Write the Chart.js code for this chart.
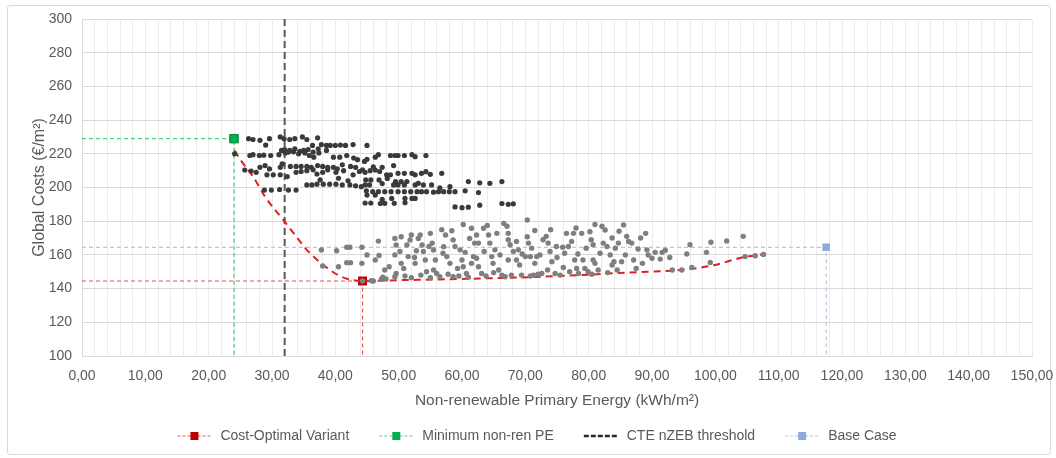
<!DOCTYPE html>
<html>
<head>
<meta charset="utf-8">
<script src="https://cdn.jsdelivr.net/npm/chart.js@4.4.1/dist/chart.umd.min.js"></script>
<style>
  body { margin: 0; background: #fff; }
  #frame { position: absolute; left: 7px; top: 5px; width: 1042px; height: 448px; border: 1px solid #d9d9d9; border-radius: 3px; }
  #chart { position: absolute; left: 0; top: 0; }
</style>
</head>
<body>
<div id="frame"></div>
<canvas id="chart" width="1056" height="458"></canvas>
<script>
// upper cloud (dark points)
var upperCloud = [
  [26.3,229],[27.0,228.5],[28.1,228],[29.6,229],[31.3,230],[31.9,229],[32.8,228.5],[33.6,229],[34.8,230],[35.5,228.5],[37.2,229.5],[29.0,225.2],
  [36.4,225],[37.8,225.5],[38.6,225],[39.2,225],[40.0,225],[40.8,225.2],[41.6,225],[42.8,225.5],[45.0,225],
  [31.5,222],[32.0,222.5],[32.8,222],[33.6,223],[34.4,221.5],[35.0,222],[35.7,222.5],[36.5,221],[37.3,223],[38.6,222],
  [24.1,220],[26.5,219],[27.0,219.5],[28.0,219],[28.7,219.2],[29.8,219],[31.1,219.5],[32.1,220.5],[32.6,221],[33.4,221.2],[34.2,220],[35.2,220.5],[35.9,219],[36.6,218],[37.4,220.5],[39.7,218],[40.7,218],[41.8,219],[42.9,217.5],[43.5,216.5],[44.6,215.5],[45.0,216.7],[46.3,218],[46.8,219.5],[48.7,219],[49.4,219],[49.9,219],[50.9,219],[52.1,219.5],[52.6,218.3],[54.3,219],
  [28.1,212],[28.9,213],[29.6,211],[31.3,212],[31.6,214],[32.9,212.5],[33.8,212.5],[34.6,212.5],[35.5,212.5],[36.2,212],[37.2,213],[38.0,212.5],[38.8,212],[39.7,212],[40.3,211],[41.1,213.5],[42.4,212.5],[43.2,212],[44.3,210.5],[46.0,212.3],[47.4,212],[49.2,213],
  [25.7,210.4],[26.7,209.8],[27.5,209],[29.2,207.5],[30.2,207.5],[31.3,207.5],[32.4,206.5],[33.8,209],[34.6,209.5],[35.5,210],[36.5,210.5],[37.1,208],[38.0,209],[38.8,210.5],[40.1,209],[41.3,210],[42.8,207.5],[43.8,209.5],[44.7,209],[45.5,210],[46.3,210.4],[47.0,209.5],[48.1,207.5],[48.7,207.5],[49.9,208.4],[50.9,208.4],[52.1,208.4],[52.6,207.5],[53.6,208.4],[54.3,209.4],[55.0,207.8],[56.8,208.4],
  [37.6,204.5],[40.5,205.5],[42.0,204],[44.8,204.5],[45.6,204.5],[46.9,204.5],[48.2,205.4],[49.5,203.5],[50.4,203.5],[51.3,203.5],[53.1,202.5],
  [35.5,201.5],[36.3,201.5],[37.1,202],[38.1,202],[39.1,202],[40.1,202],[41.1,201.5],[42.3,201.5],[43.2,201],[44.1,200.5],[44.7,201.5],[45.4,201.5],[47.4,202.3],[49.2,201.5],[49.9,201.5],[50.9,201.5],[52.6,201.5],[53.9,201.5],[55.2,201.5],[56.5,199.8],[58.1,200.5],[61.0,203.5],[62.8,202.8],[64.4,202.5],[66.3,203.5],
  [28.8,198.5],[29.9,198.5],[31.2,198.8],[32.6,198.5],[33.8,198.5],[44.9,198],[45.9,197.5],[46.8,197.5],[47.8,197.5],[48.8,197.5],[49.9,197.5],[50.9,197.5],[51.9,197.5],[52.9,197.5],[53.6,197.5],[54.4,197.5],[55.5,197.2],[56.3,197.5],[57.1,197.5],[58.0,197.5],[58.9,197.5],[60.5,198],[62.6,197],
  [45.0,195.5],[46.3,195.5],[47.4,193],[48.9,193.5],[51.0,193.5],[52.1,193.5],[52.6,193.5],
  [44.7,190.8],[45.6,190.8],[47.1,190.5],[47.8,190.6],[49.3,190.6],[51.0,191],[58.9,188.5],[60.0,188],[61.0,188.3],[62.8,189.5],[66.3,190.5],[67.3,190],[68.1,190.3]
];

// lower cloud (grey points)
var lowerCloud = [
  [37.8,162.9],[38.0,153.4],[40.2,162.5],[40.5,153],[41.8,164.5],[42.3,164.5],[41.8,155.4],[42.4,155.4],[44.2,164.5],[44.2,155],[44.3,144.5],[45.7,144.7],[46.3,157],[46.8,168.2],[46.9,159.6],[47.3,145.7],[48.0,145.7],
  [49.4,169.8],[49.6,165.9],[49.4,160],[49.6,149],[49.4,147.1],[50.4,170.8],[50.2,162],[50.4,155],[51.0,147.5],[51.3,165.9],[51.8,168.9],[52.0,171.8],[51.5,159],[52.6,155],[52.8,162.5],[53.1,169.8],[53.4,171.8],[53.7,165.9],[53.9,162],[54.2,157],[54.4,150],[55.0,172.8],[55.3,167],[55.5,162.9],[55.8,157],[55.5,151],[56.0,149],[56.5,147],[57.1,164.9],[57.4,171.8],[57.6,159],[58.1,155],[58.4,174.3],[58.6,168.9],[58.9,165],[58.6,147],[59.3,152],[59.7,163],[60.0,157],[60.2,153],[60.7,149],[61.2,169.8],[61.5,175.8],[62.0,167],[61.8,159],[61.5,155],
  [62.3,171.8],[62.6,167],[62.3,158],[62.6,153],[63.1,149],[63.4,175.8],[64.2,171.8],[64.4,167],[64.7,159],[64.9,155],[65.2,163],[65.5,172.8],[65.8,151],[66.3,148],[66.6,178.7],[67.1,177],[67.3,172.8],[67.3,169],[67.6,166],[67.3,157],[67.8,148],[68.1,162],[68.6,168],[68.6,157],[68.9,163],[69.4,148],[69.1,154],[70.0,159],[70.3,180.7],[70.3,170.8],[70.5,167],[70.8,159],[71.0,164],[71.3,148],[71.5,155],[71.8,159],[72.6,149],[72.8,169],[73.3,171],[73.6,167],[73.9,162],[74.2,156],[74.7,149],[74.9,165],
  [75.9,164.5],[76.2,161],[76.5,172.8],[76.8,165],[77.0,150],[77.3,168],[77.6,172.8],[77.8,157],[78.1,152],[78.4,149],[78.9,172.8],[79.1,157],[79.4,152],[79.6,164],[79.9,150],[80.2,173.8],[80.4,169],[80.7,166],[80.7,157],[81.0,155],[81.5,151],[82.1,177],[82.3,167],[82.6,174.8],[82.9,165],[83.4,160],[83.7,170],[84.0,156],[83.7,154],[84.7,167],[85.5,177.8],[85.2,156],[86.0,171],[86.3,168],[86.8,167],[87.1,157],[89.0,172.8],[89.2,163],[89.4,160],[90.0,158],
  [90.5,161.5],[91.3,157.5],[91.6,161.5],[92.1,162.8],[92.8,158.5],[93.2,151],[94.7,151],[95.5,160.5],[96.0,166],[96.3,152.5],[98.6,161.5],[99.2,155.5],[99.3,167.5],[101.8,168.3],[104.4,171],[104.7,159],[106.3,159.5],[107.6,160.3],
  [46.0,144.5],[47.5,146.8],[52.0,146.5],[53.5,148],[55.0,146.5],[57.8,148.5],[59.5,147.5],[61.0,146.8],[63.8,147.5],[65.0,149.5],[66.8,147],[70.8,147.5],[72.0,148.5],[73.5,151],[75.5,148],[76.0,152.5],[80.5,148.5],[83.0,149.5],[84.5,151],[87.5,152],[88.5,155],[85.8,160],[87.8,163.5],[88.2,170],[84.2,164],[81.8,161],[78.3,160.5],[75.0,158.5],[72.3,160],[69.5,160.5],[66.0,160],[63.5,162],[60.5,161.5],[57.0,161],[54.8,165],[52.5,158.5],[48.5,153],[47.8,151],[50.8,152],[45.0,160],[56.8,175],[60.2,178],[64.0,177.5],[74.0,175],[71.5,174.5],[78.0,176],[81.0,178],[84.8,174]
];

// pareto front (red dashed curve)
var paretoFront = [
  [24.1,222],[25,216.5],[27,206.5],[29,194],[31.8,180.7],[34,170],[35.5,163],[38.1,154],[40.7,147.5],[42.5,145.2],[44.3,144.5],
  [50,145],[56,145.4],[62.8,146],[69,146.6],[78.6,148],[86,149.5],[94.4,151],[99.7,153.8],[104.4,158.6],[107.6,160.3]
];

// highlighted variants
var costOptimal = [44.3, 144.5];
var minNonRen = [24.0, 229];
var baseCase = [117.5, 164.5];
var nzebThreshold = 32;

var legendNames = ['Cost-Optimal Variant', 'Minimum non-ren PE', 'CTE nZEB threshold', 'Base Case'];

var textColor = '#595959';
var fontFam = "'Liberation Sans', Arial, sans-serif";

function toPts(arr) {
  return arr.map(function (p) { return { x: p[0], y: p[1] }; });
}

// guide lines: from y axis to the point, then down to the x axis
function guide(p) {
  return [{ x: 0, y: p[1] }, { x: p[0], y: p[1] }, { x: p[0], y: 100 }];
}

// legend icon: 16px empty gap on the left, then a dashed line with a square
function legendIcon(lineColor, markColor, dash, lineW, mark) {
  var c = document.createElement('canvas');
  c.width = 52; c.height = 10;
  var g = c.getContext('2d');
  g.strokeStyle = lineColor;
  g.lineWidth = lineW;
  g.setLineDash(dash);
  g.beginPath();
  g.moveTo(16, 5); g.lineTo(50, 5);
  g.stroke();
  if (mark) {
    g.fillStyle = markColor;
    g.fillRect(29, 1, 8, 8);
  }
  return c;
}

var icons = [
  legendIcon('#e86060', '#c00000', [3, 2], 1.2, true),
  legendIcon('#5fd38d', '#00b050', [3, 2], 1.2, true),
  legendIcon('#262626', '', [5, 2], 2.5, false),
  legendIcon('#b4c7e7', '#8faadc', [3, 2], 1.2, true)
];

var chart = new Chart(document.getElementById('chart'), {
  type: 'scatter',
  data: {
    datasets: [
      {
        label: 'upper',
        data: toPts(upperCloud),
        backgroundColor: '#3a3a3a',
        borderWidth: 0,
        pointRadius: 2.6,
        order: 2
      },
      {
        label: 'lower',
        data: toPts(lowerCloud),
        backgroundColor: '#7f7f7f',
        borderWidth: 0,
        pointRadius: 2.7,
        order: 2
      },
      {
        label: 'pareto',
        data: toPts(paretoFront),
        showLine: true,
        cubicInterpolationMode: 'monotone',
        borderColor: '#e02020',
        borderWidth: 2,
        borderDash: [7, 5],
        pointRadius: 0,
        order: 3
      },
      {
        label: legendNames[0],
        data: guide(costOptimal),
        showLine: true,
        borderColor: '#e45555',
        borderWidth: 1.2,
        borderDash: [4, 3],
        pointRadius: [0, 5.5, 0],
        pointStyle: 'rect',
        pointBackgroundColor: '#c00000',
        pointBorderColor: '#c00000',
        order: 5
      },
      {
        label: legendNames[1],
        data: guide(minNonRen),
        showLine: true,
        borderColor: '#4fd080',
        borderWidth: 1.3,
        borderDash: [4, 3],
        pointRadius: [0, 6, 0],
        pointStyle: 'rect',
        pointBackgroundColor: '#00b050',
        pointBorderColor: '#00803a',
        pointBorderWidth: 1,
        order: 5
      },
      {
        label: legendNames[2],
        data: [{ x: nzebThreshold, y: 100 }, { x: nzebThreshold, y: 300 }],
        showLine: true,
        borderColor: '#595959',
        borderWidth: 2,
        borderDash: [7, 4],
        pointRadius: 0,
        order: 4
      },
      {
        label: legendNames[3],
        data: guide(baseCase),
        showLine: true,
        borderColor: '#b4c7e7',
        borderWidth: 1.2,
        borderDash: [4, 3],
        pointRadius: [0, 4.5, 0],
        pointStyle: 'rect',
        pointBackgroundColor: '#8faadc',
        pointBorderColor: '#8faadc',
        order: 5
      }
    ]
  },
  options: {
    responsive: false,
    animation: false,
    layout: { padding: { top: 19, right: 24, left: 26, bottom: 5 } },
    plugins: {
      tooltip: { enabled: false },
      legend: {
        position: 'bottom',
        labels: {
          usePointStyle: true,
          pointStyleWidth: 52,
          padding: 14,
          color: textColor,
          font: { family: fontFam, size: 14 },
          generateLabels: function () {
            return legendNames.map(function (name, i) {
              return {
                text: name,
                pointStyle: icons[i],
                fontColor: textColor,
                fillStyle: 'transparent',
                strokeStyle: 'transparent',
                lineWidth: 0,
                hidden: false,
                datasetIndex: i + 3
              };
            });
          }
        }
      }
    },
    scales: {
      x: {
        type: 'linear',
        min: 0,
        max: 150,
        afterFit: function (scale) {
          scale.height = 59;
          scale.paddingLeft = 0;
          scale.paddingRight = 0;
        },
        ticks: {
          stepSize: 2,
          maxTicksLimit: 100,
          autoSkip: false,
          maxRotation: 0,
          padding: 12,
          color: textColor,
          font: { family: fontFam, size: 14 },
          callback: function (value) {
            var v = Math.round(value);
            return v % 10 === 0 ? v.toFixed(2).replace('.', ',') : '';
          }
        },
        grid: { color: '#ebebeb', drawTicks: false },
        border: { color: '#d9d9d9' },
        title: {
          display: true,
          text: 'Non-renewable Primary Energy (kWh/m²)',
          color: textColor,
          font: { family: fontFam, size: 15.5 },
          padding: { top: 5, bottom: 5 }
        }
      },
      y: {
        min: 100,
        max: 300,
        afterFit: function (scale) {
          scale.width = 56;
          scale.paddingTop = 0;
          scale.paddingBottom = 0;
        },
        ticks: {
          stepSize: 20,
          padding: 10,
          color: textColor,
          font: { family: fontFam, size: 14 }
        },
        grid: { color: '#d9d9d9', drawTicks: false },
        border: { color: '#d9d9d9' },
        title: {
          display: true,
          text: 'Global Costs (€/m²)',
          color: textColor,
          font: { family: fontFam, size: 16 },
          padding: { bottom: 4 }
        }
      }
    }
  }
});
</script>
</body>
</html>
